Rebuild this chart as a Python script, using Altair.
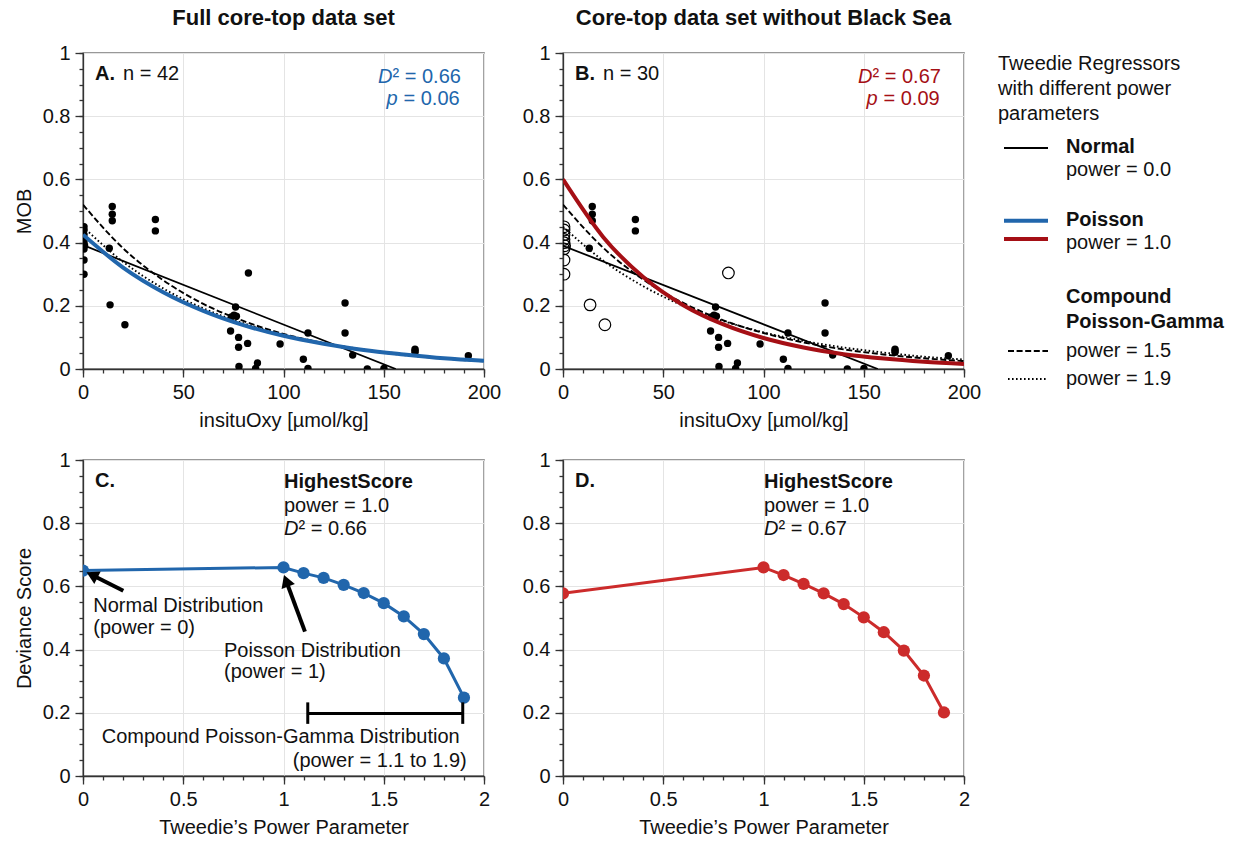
import altair as alt
import pandas as pd

FONT = "Liberation Sans"
BLUE = "#2166ac"
DARKRED = "#a50f15"
RED = "#cc2b2b"
INK = "#111111"
W, H = 401, 316

# ---------------- data ----------------
# core-top samples outside the Black Sea
oxy_core = [14.6, 14.6, 14.6, 13.1, 36.1, 36.1, 76.1, 75.3, 74.0, 76.5, 73.6, 77.6, 77.6, 82.1, 77.8,
            87.0, 86.1, 98.3, 109.9, 112.2, 112.2, 130.7, 130.7, 134.5, 141.8, 150.1, 165.6, 165.6, 165.6, 192.2]
mob_core = [0.514, 0.490, 0.469, 0.382, 0.473, 0.437, 0.196, 0.170, 0.165, 0.167, 0.120, 0.100, 0.069, 0.081, 0.008,
            0.019, 0.002, 0.079, 0.031, 0.114, 0.002, 0.209, 0.114, 0.044, 0.000, 0.002, 0.063, 0.058, 0.053, 0.042]
# Black Sea samples
oxy_bs = [0.5, 0.5, 0.5, 0.5, 0.5, 0.8, 0.5, 0.5, 0.5, 13.5, 20.9, 82.5]
mob_bs = [0.450, 0.440, 0.425, 0.410, 0.400, 0.390, 0.380, 0.345, 0.300, 0.203, 0.140, 0.304]

# fitted regressors
fit_x = [0, 20, 40, 60, 80, 100, 120, 140, 160, 180, 200]
fitA_poisson = [0.425, 0.321, 0.243, 0.184, 0.139, 0.105, 0.080, 0.060, 0.046, 0.034, 0.026]
fitA_p15 = [0.520, 0.382, 0.281, 0.206, 0.152, 0.111, 0.082, 0.060, 0.044, 0.033, 0.024]
fitA_p19 = [0.450, 0.339, 0.255, 0.192, 0.145, 0.109, 0.082, 0.062, 0.047, 0.035, 0.026]
fitB_poisson = [0.600, 0.418, 0.291, 0.202, 0.141, 0.098, 0.068, 0.047, 0.033, 0.023, 0.016]
fitB_p15 = [0.520, 0.384, 0.283, 0.209, 0.154, 0.114, 0.084, 0.062, 0.046, 0.034, 0.025]
fitB_p19 = [0.450, 0.343, 0.262, 0.200, 0.152, 0.116, 0.089, 0.068, 0.052, 0.039, 0.030]
normA_x = [0, 156]
normA_y = [0.392, 0.0]
normB_x = [0, 157]
normB_y = [0.390, 0.0]

# deviance scores vs Tweedie power
power = [0.0, 1.0, 1.1, 1.2, 1.3, 1.4, 1.5, 1.6, 1.7, 1.8, 1.9]
dev_full = [0.650, 0.660, 0.642, 0.627, 0.605, 0.579, 0.547, 0.505, 0.449, 0.372, 0.248]
dev_nobs = [0.578, 0.660, 0.636, 0.608, 0.578, 0.544, 0.502, 0.455, 0.397, 0.318, 0.201]

# ticks
oxy_ticks = [0, 50, 100, 150, 200]
oxy_minor = list(range(0, 201, 10))
pow_ticks = [0, 0.5, 1, 1.5, 2]
pow_minor = [i / 10 for i in range(21)]
y_ticks = [0, 0.2, 0.4, 0.6, 0.8, 1]
y_minor = [i / 20 for i in range(21)]

LABEL_EXPR = ("datum.value == round(datum.value) ? format(datum.value, 'd') "
              ": format(datum.value, '.1f')")


# ---------------- helpers ----------------
def sc(dom):
    return alt.Scale(domain=dom, nice=False, zero=False)


def major_axis(orient, values, title):
    return alt.Axis(orient=orient, values=values, labelExpr=LABEL_EXPR, tickSize=8, labelFlush=False,
                    labelOverlap=False, grid=True, title=title, labelPadding=5, titlePadding=8)


def minor_axis(orient, values):
    return alt.Axis(orient=orient, values=values, tickSize=4, labels=False, grid=False,
                    domain=False, title="")


def txt(s, x, y, size=20, weight="normal", style="normal", color=INK, align="left"):
    return alt.Chart(pd.DataFrame({"t": [s]})).mark_text(
        align=align, baseline="middle", font=FONT, fontSize=size, fontWeight=weight,
        fontStyle=style, color=color).encode(x=alt.value(x), y=alt.value(y), text="t:N")


def lrule(x1, x2, y, color, width, dash=None):
    kw = dict(color=color, strokeWidth=width)
    if dash:
        kw["strokeDash"] = dash
    return alt.Chart(pd.DataFrame({"k": [0]})).mark_rule(**kw).encode(
        x=alt.value(x1), x2=alt.value(x2), y=alt.value(y))


def scatter_panel(open_bs, fit_p, fit15, fit19, nx, ny, color, letter, n, d2, p, ytitle, title):
    xs, ys = sc([0, 200]), sc([0, 1])
    core = pd.DataFrame({"oxy": oxy_core, "mob": mob_core})
    bs = pd.DataFrame({"oxy": oxy_bs, "mob": mob_bs})
    allpts = pd.concat([core, bs], ignore_index=True)
    minor = alt.Chart(allpts).mark_point(opacity=0).encode(
        x=alt.X("oxy:Q", scale=xs, axis=minor_axis("bottom", oxy_minor)),
        y=alt.Y("mob:Q", scale=ys, axis=minor_axis("left", y_minor)))
    layers = [minor]
    if open_bs:
        layers.append(alt.Chart(bs).mark_point(size=135, color="black", strokeWidth=1.2,
                                               filled=False, opacity=1, clip=True).encode(
            x=alt.X("oxy:Q", scale=xs, axis=None), y=alt.Y("mob:Q", scale=ys, axis=None)))
        dots = core
    else:
        dots = allpts
    layers.append(alt.Chart(dots).mark_circle(size=55, color="black", opacity=1, clip=True).encode(
        x=alt.X("oxy:Q", scale=xs, axis=major_axis("bottom", oxy_ticks, "insituOxy [µmol/kg]")),
        y=alt.Y("mob:Q", scale=ys, axis=major_axis("left", y_ticks, ytitle))))
    normal = pd.DataFrame({"oxy": nx, "mob": ny})
    layers.append(alt.Chart(normal).mark_line(color="black", strokeWidth=1.8, clip=True).encode(
        x=alt.X("oxy:Q", scale=xs, axis=None), y=alt.Y("mob:Q", scale=ys, axis=None)))
    for vals, dash in [(fit15, [6, 2.6]), (fit19, [1.6, 2.4])]:
        d = pd.DataFrame({"oxy": fit_x, "mob": vals})
        layers.append(alt.Chart(d).mark_line(color="black", strokeWidth=1.9, strokeDash=dash,
                                             interpolate="monotone", clip=True).encode(
            x=alt.X("oxy:Q", scale=xs, axis=None), y=alt.Y("mob:Q", scale=ys, axis=None)))
    d = pd.DataFrame({"oxy": fit_x, "mob": fit_p})
    layers.append(alt.Chart(d).mark_line(color=color, strokeWidth=4, interpolate="monotone",
                                         clip=True).encode(
        x=alt.X("oxy:Q", scale=xs, axis=None), y=alt.Y("mob:Q", scale=ys, axis=None)))
    layers += [
        txt(letter, 12, 21, weight="bold"),
        txt(n, 40, 21),
        txt("D", 295, 24, style="italic", color=color),
        txt(d2, 309.5, 24, color=color),
        txt("p", 303.5, 46, style="italic", color=color),
        txt(p, 320.5, 46, color=color),
    ]
    return alt.layer(*layers).resolve_axis(x="independent", y="independent").properties(
        width=W, height=H,
        title=alt.TitleParams(title, font=FONT, fontSize=22, fontWeight="bold", color=INK,
                              anchor="middle", offset=13))


def dev_panel(dev, color, letter, d2, ytitle, extra):
    xs, ys = sc([0, 2]), sc([0, 1])
    df = pd.DataFrame({"power": power, "dev": dev})
    minor = alt.Chart(df).mark_point(opacity=0).encode(
        x=alt.X("power:Q", scale=xs, axis=minor_axis("bottom", pow_minor)),
        y=alt.Y("dev:Q", scale=ys, axis=minor_axis("left", y_minor)))
    line = alt.Chart(df).mark_line(color=color, strokeWidth=3, clip=True).encode(
        x=alt.X("power:Q", scale=xs, axis=major_axis("bottom", pow_ticks, "Tweedie’s Power Parameter")),
        y=alt.Y("dev:Q", scale=ys, axis=major_axis("left", y_ticks, ytitle)))
    dots = alt.Chart(df).mark_circle(size=150, color=color, opacity=1, clip=True).encode(
        x=alt.X("power:Q", scale=xs, axis=None), y=alt.Y("dev:Q", scale=ys, axis=None))
    layers = [minor, line, dots] + extra(xs, ys) + [
        txt(letter, 12, 21, weight="bold"),
        txt("HighestScore", 201, 22, weight="bold"),
        txt("power = 1.0", 201, 46),
        txt("D", 201, 69, style="italic"),
        txt(d2, 215.5, 69),
    ]
    return alt.layer(*layers).resolve_axis(x="independent", y="independent").properties(
        width=W, height=H)


def annotations_c(xs, ys):
    arrows = pd.DataFrame({"x": [0.201, 1.107], "y": [0.586, 0.457],
                           "x2": [0.045, 1.013], "y2": [0.636, 0.618]})
    heads = pd.DataFrame({"x": [0.045, 1.013], "y": [0.636, 0.618], "ang": [296.7, 339.7]})
    bracket_h = pd.DataFrame({"x": [1.121], "x2": [1.894], "y": [0.198]})
    bracket_v = pd.DataFrame({"x": [1.121, 1.894], "y": [0.165, 0.165], "y2": [0.233, 0.233]})
    out = [
        alt.Chart(arrows).mark_rule(color="black", strokeWidth=4).encode(
            x=alt.X("x:Q", scale=xs, axis=None), y=alt.Y("y:Q", scale=ys, axis=None),
            x2="x2:Q", y2="y2:Q"),
        alt.Chart(heads).mark_point(shape="triangle-up", filled=True, size=200, color="black",
                                    opacity=1).encode(
            x=alt.X("x:Q", scale=xs, axis=None), y=alt.Y("y:Q", scale=ys, axis=None),
            angle=alt.Angle("ang:Q", scale=None)),
        alt.Chart(bracket_h).mark_rule(color="black", strokeWidth=3).encode(
            x=alt.X("x:Q", scale=xs, axis=None), x2="x2:Q", y=alt.Y("y:Q", scale=ys, axis=None)),
        alt.Chart(bracket_v).mark_rule(color="black", strokeWidth=3).encode(
            x=alt.X("x:Q", scale=xs, axis=None), y=alt.Y("y:Q", scale=ys, axis=None), y2="y2:Q"),
        txt("Normal Distribution", 10.3, 145.7),
        txt("(power = 0)", 10.3, 168),
        txt("Poisson Distribution", 141, 190.7),
        txt("(power = 1)", 141, 212.3),
        txt("Compound Poisson-Gamma Distribution", 18.7, 277.3),
        txt("(power = 1.1 to 1.9)", 383.7, 300.7, align="right"),
    ]
    return out


def no_extra(xs, ys):
    return []


pA = scatter_panel(False, fitA_poisson, fitA_p15, fitA_p19, normA_x, normA_y, BLUE,
                   "A.", "n = 42", "² = 0.66", "= 0.06", "MOB", "Full core-top data set")
pB = scatter_panel(True, fitB_poisson, fitB_p15, fitB_p19, normB_x, normB_y, DARKRED,
                   "B.", "n = 30", "² = 0.67", "= 0.09", "", "Core-top data set without Black Sea")
pC = dev_panel(dev_full, BLUE, "C.", "² = 0.66", "Deviance Score", annotations_c)
pD = dev_panel(dev_nobs, RED, "D.", "² = 0.67", "", no_extra)

# legend panel (positions relative to its own origin)
legend = alt.layer(
    txt("Tweedie Regressors", -45, 11),
    txt("with different power", -45, 36),
    txt("parameters", -45, 61),
    lrule(-39, 5, 95, "black", 1.8),
    txt("Normal", 23, 94, weight="bold"),
    txt("power = 0.0", 23, 117),
    lrule(-39, 5, 167.7, BLUE, 4),
    lrule(-39, 5, 186, DARKRED, 4),
    txt("Poisson", 23, 167, weight="bold"),
    txt("power = 1.0", 23, 190),
    txt("Compound", 23, 244, weight="bold"),
    txt("Poisson-Gamma", 23, 269, weight="bold"),
    lrule(-35, 5, 298, "black", 1.9, [6, 2.6]),
    txt("power = 1.5", 23, 298),
    lrule(-35, 5, 326, "black", 1.9, [1.6, 2.4]),
    txt("power = 1.9", 23, 326),
).properties(width=180, height=H, view=alt.ViewBackground(stroke="transparent"))

chart = alt.concat(
    pA, pB, legend, pC, pD, columns=3,
    spacing=alt.RowColnumber(row=91, column=79), bounds="flush",
).properties(
    padding={"left": 13, "top": 6, "right": 0, "bottom": 0}
).configure_view(
    stroke="#333333", strokeWidth=1.3
).configure_axis(
    labelFont=FONT, labelFontSize=20, labelColor=INK,
    titleFont=FONT, titleFontSize=20, titleFontWeight="normal", titleColor=INK,
    domainColor="#333333", domainWidth=1.3, tickColor="#333333", tickWidth=1.3,
    gridColor="#e4e4e4", gridWidth=1
)

chart.save("out.html", embed_options={"renderer": "svg", "actions": False})
